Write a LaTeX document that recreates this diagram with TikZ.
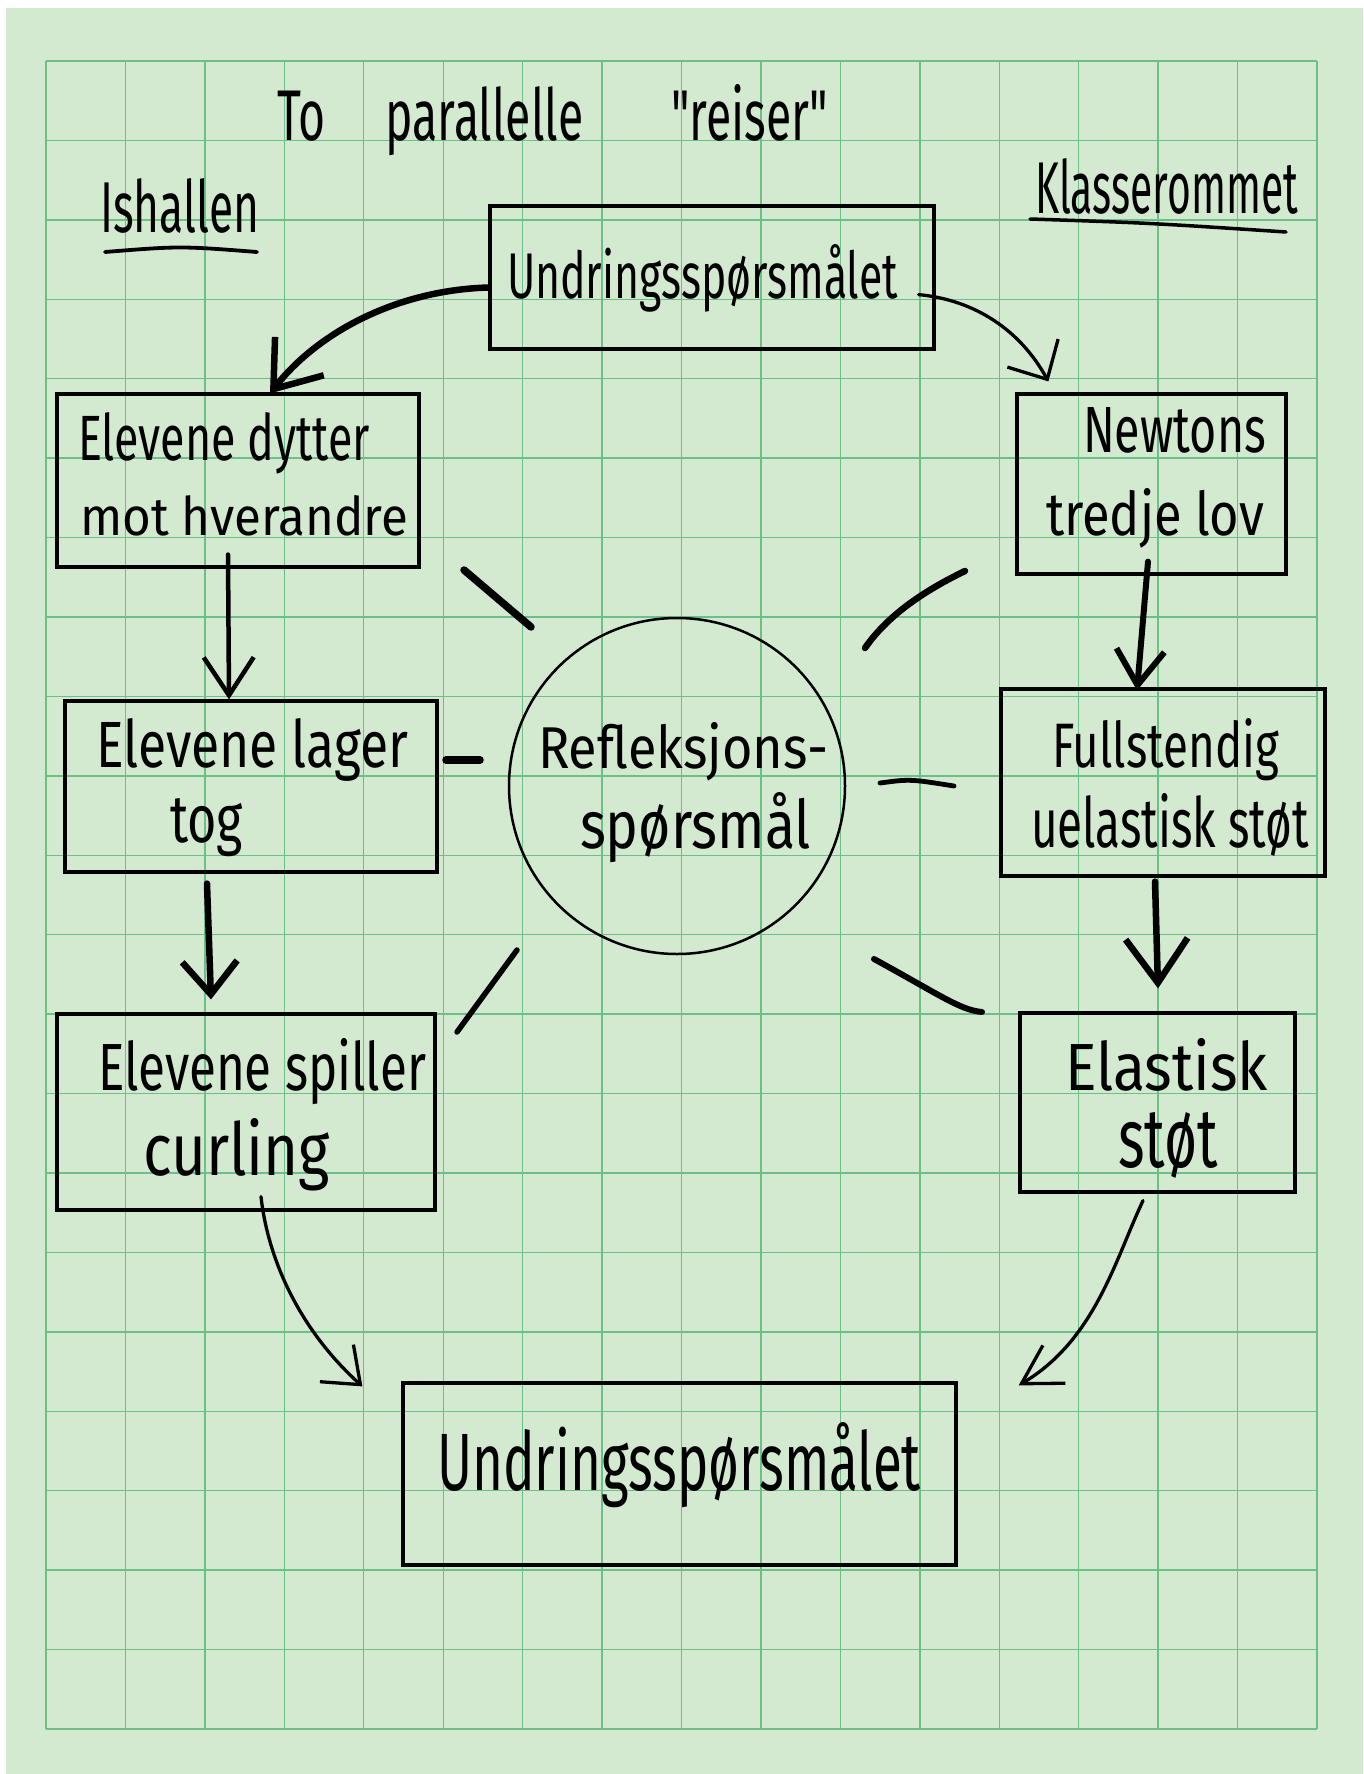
\documentclass[tikz,border=0pt]{standalone}
\usepackage{fontspec}
\setmainfont{Fira Sans}[Ligatures=TeXOff]
\usepackage{graphicx}
\usetikzlibrary{arrows.meta,calc}
\definecolor{paper}{HTML}{D3EAD0}
\definecolor{gridc}{HTML}{6CBF87}
\newcommand\hwt[3]{\resizebox{#1pt}{#2pt}{#3}}
\tikzset{
  hw/.style={anchor=base west, inner sep=0pt, outer sep=0pt},
  hbox/.style={draw, line width=3.2pt, inner sep=0pt, rectangle},
  ray/.style={line cap=round, line join=round},
  conn/.style={line cap=round, line join=round},
}
\begin{document}
\begin{tikzpicture}[x=1pt,y=-1pt]
\useasboundingbox (0,0) rectangle (1363,1774);
\fill[white] (0,0) rectangle (1363,1774);
\fill[paper] (6,8) rectangle (1363,1774);
% grid
\foreach \i in {0,...,16} \draw[gridc, line width=1.4pt] ({46+\i*79.44},61) -- ({46+\i*79.44},1729);
\foreach \j in {0,...,21} \draw[gridc, line width=1.4pt] (46,{61+\j*79.43}) -- (1317,{61+\j*79.43});

% title and headings
\node[hw] (title) at (277,140) {\hwt{551}{56}{To\hspace{1.3em}parallelle\hspace{1.9em}"reiser"}};
\node[hw] (ishallen) at (100,232) {\hwt{159}{54}{Ishallen}};
\coordinate (u1a) at (105,252); \coordinate (u1b) at (257,252);
\draw[line width=3.8pt, line cap=round] (u1a) .. controls (180,246) .. (u1b);
\node[hw] (klasse) at (1035,213) {\hwt{263}{55}{Klasserommet}};
\coordinate (u2a) at (1030,219); \coordinate (u2b) at (1286,232);
\draw[line width=3.5pt, line cap=round] (u2a) .. controls (1150,223) .. (u2b);

% boxes
\node[hbox, minimum width=444pt, minimum height=143pt] (top) at (712,277.5) {};
\node[hbox, minimum width=362pt, minimum height=173pt] (left1) at (238,480.5) {};
\node[hbox, minimum width=372pt, minimum height=171pt] (left2) at (251,786.5) {};
\node[hbox, minimum width=378pt, minimum height=196pt] (left3) at (246,1112) {};
\node[hbox, minimum width=269pt, minimum height=180pt] (right1) at (1151.5,484) {};
\node[hbox, minimum width=324pt, minimum height=187pt] (right2) at (1163,782.5) {};
\node[hbox, minimum width=275pt, minimum height=179pt] (right3) at (1157.5,1102.5) {};
\node[hbox, minimum width=553pt, minimum height=182pt] (bottom) at (679.5,1474) {};
\node[draw, circle, line width=2.5pt, minimum size=336pt, inner sep=0pt] (circ) at (677,786) {};

% texts
\node[hw] (t1) at (507,298) {\hwt{391}{54}{Undringsspørsmålet}};
\node[hw] (l1a) at (78,460) {\hwt{292}{48}{Elevene dytter}};
\node[hw] (l1b) at (80,535) {\hwt{328}{40}{mot hverandre}};
\node[hw] (l2a) at (96,767) {\hwt{312}{49}{Elevene lager}};
\node[hw] (l2b) at (170,842) {\hwt{73}{44}{tog}};
\node[hw] (l3a) at (98,1090) {\hwt{328}{52}{Elevene spiller}};
\node[hw] (l3b) at (143,1175) {\hwt{187}{57}{curling}};
\node[hw] (r1a) at (1083,452) {\hwt{183}{45}{Newtons}};
\node[hw] (r1b) at (1046,535) {\hwt{218}{47}{tredje lov}};
\node[hw] (r2a) at (1052,767) {\hwt{227}{49}{Fullstendig}};
\node[hw] (r2b) at (1031,847) {\hwt{278}{54}{uelastisk støt}};
\node[hw] (r3a) at (1065,1090) {\hwt{203}{52}{Elastisk}};
\node[hw] (r3b) at (1118,1167) {\hwt{100}{55}{støt}};
\node[hw] (c1) at (538,768) {\hwt{290}{46}{Refleksjons-}};
\node[hw] (c2) at (580,848) {\hwt{231}{56}{spørsmål}};
\node[hw] (b1) at (437,1490) {\hwt{484}{68}{Undringsspørsmålet}};

% arrows
\draw[conn, line width=6.5pt, -{Straight Barb[length=42pt,width=62pt]}]
  ($(top.west)+(0,10)$) .. controls (400,290) and (320,330) .. ($(left1.north)+(32,1)$);
\draw[conn, line width=3.3pt, -{Straight Barb[length=30pt,width=58pt]}]
  ($(top.south east)+(-17,-56)$) .. controls (975,300) and (1020,330) .. ($(right1.north west)+(33,-11)$);
\draw[conn, line width=4.5pt, -{Straight Barb[length=38pt,width=50pt]}]
  ($(left1.south)+(-10,-14)$) -- ($(left2.north)+(-22,0)$);
\draw[conn, line width=6.5pt, -{Straight Barb[length=33pt,width=55pt]}]
  ($(left2.south)+(-44,10)$) -- ($(left3.north)+(-35,-13)$);
\draw[conn, line width=6pt, -{Straight Barb[length=35pt,width=48pt]}]
  ($(right1.south)+(-3.5,-14)$) -- ($(right2.north)+(-26,3)$);
\draw[conn, line width=6.5pt, -{Straight Barb[length=44pt,width=62pt]}]
  ($(right2.south)+(-8,4)$) -- ($(right3.north)+(0.5,-23)$);
\draw[conn, line width=3.3pt, -{Straight Barb[length=32pt,width=50pt]}]
  ($(left3.south)+(15,-15)$) .. controls (268,1260) and (300,1330) .. ($(bottom.north west)+(-39,5)$);
\draw[conn, line width=3.3pt, -{Straight Barb[length=38pt,width=44pt]}]
  ($(right3.south)+(-14.5,7)$) .. controls (1115,1260) and (1095,1340) .. ($(bottom.north east)+(61,4)$);

% rays around the circle
\coordinate (s1a) at (464,570); \coordinate (s1b) at (531,627);
\draw[ray, line width=7.5pt] (s1a) -- (s1b);
\coordinate (s2a) at (965,571); \coordinate (s2b) at (865,648);
\draw[ray, line width=6.5pt] (s2a) .. controls (930,588) and (890,612) .. (s2b);
\coordinate (s3a) at (446,760); \coordinate (s3b) at (480,760);
\draw[ray, line width=7.5pt] (s3a) -- (s3b);
\coordinate (s4a) at (880,783); \coordinate (s4b) at (954,786);
\draw[ray, line width=4.8pt] (s4a) .. controls (910,779) .. (s4b);
\coordinate (s5a) at (517,950); \coordinate (s5b) at (457,1032);
\draw[ray, line width=5.5pt] (s5a) -- (s5b);
\coordinate (s6a) at (874,959); \coordinate (s6b) at (982,1012);
\draw[ray, line width=6pt] (s6a) .. controls (940,995) and (960,1010) .. (s6b);
\end{tikzpicture}
\end{document}
